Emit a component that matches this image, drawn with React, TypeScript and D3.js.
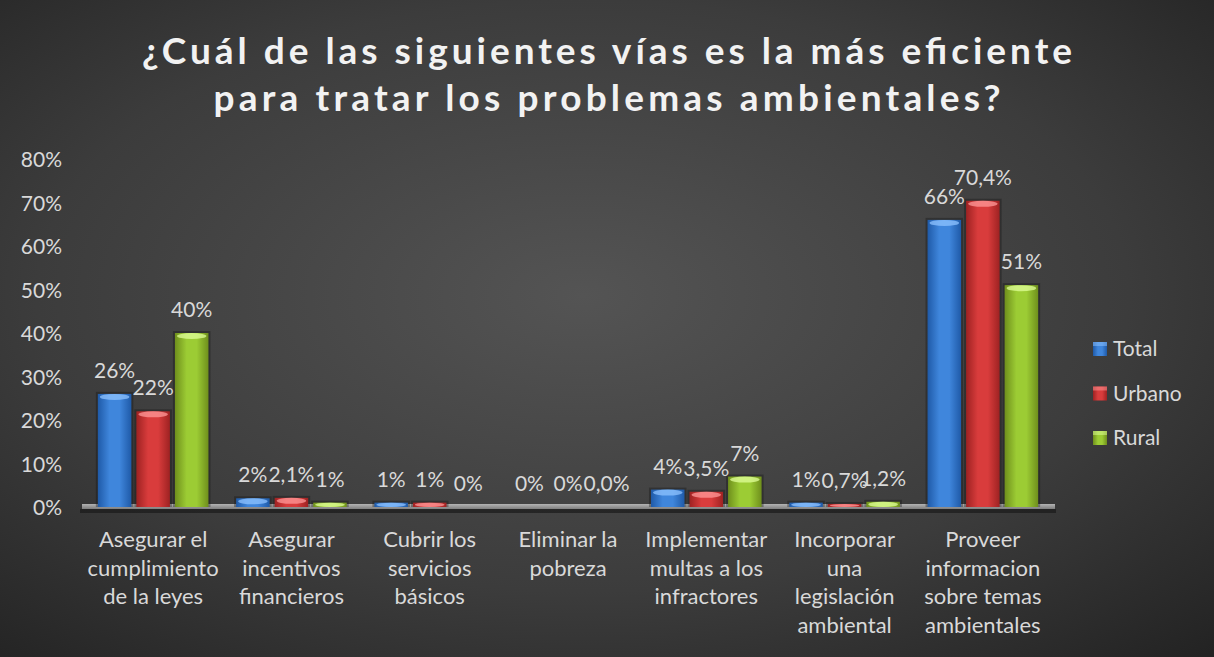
import React from "react";
import * as d3 from "d3";

const categories: string[][] = [
  ["Asegurar el", "cumplimiento", "de la leyes"],
  ["Asegurar", "incentivos", "financieros"],
  ["Cubrir los", "servicios", "básicos"],
  ["Eliminar la", "pobreza"],
  ["Implementar", "multas a los", "infractores"],
  ["Incorporar", "una", "legislación", "ambiental"],
  ["Proveer", "informacion", "sobre temas", "ambientales"],
];
const seriesNames = ["Total", "Urbano", "Rural"];
const totalValues = [26, 2, 1, 0, 4, 1, 66];
const urbanoValues = [22, 2.1, 1, 0, 3.5, 0.7, 70.4];
const ruralValues = [40, 1, 0, 0, 7, 1.2, 51];
const totalLabels = ["26%", "2%", "1%", "0%", "4%", "1%", "66%"];
const urbanoLabels = ["22%", "2,1%", "1%", "0%", "3,5%", "0,7%", "70,4%"];
const ruralLabels = ["40%", "1%", "0%", "0,0%", "7%", "1,2%", "51%"];
const yTicks = [0, 10, 20, 30, 40, 50, 60, 70, 80];
const titleLines = [
  "¿Cuál de las siguientes vías es la más eficiente",
  "para tratar los problemas ambientales?",
];

const W = 1214;
const H = 657;
const FONT = "Lato, 'Open Sans', sans-serif";
const TXT = "#d9d9d9";

const seriesValues = [totalValues, urbanoValues, ruralValues];
const seriesLabels = [totalLabels, urbanoLabels, ruralLabels];
const palette = [
  { dark: "#1f5aa8", mid: "#3f86dc", light: "#8fc3ff" },
  { dark: "#9e2222", mid: "#d93c3c", light: "#ff9a9a" },
  { dark: "#6f8f1c", mid: "#9ccc34", light: "#e0ff9a" },
];

export default function App() {
  const y = d3.scaleLinear().domain([0, 80]).range([507, 159]);
  const x0 = d3
    .scaleBand<number>()
    .domain(d3.range(categories.length))
    .range([84, 1052])
    .paddingInner(0.2)
    .paddingOuter(0.1);
  const x1 = d3
    .scaleBand<number>()
    .domain([0, 1, 2])
    .range([0, x0.bandwidth()])
    .paddingInner(0.13);
  const bw = x1.bandwidth();

  return (
    <svg
      width={W}
      height={H}
      style={{ position: "absolute", left: 0, top: 0 }}
      fontFamily={FONT}
    >
      <defs>
        <radialGradient id="bg" cx="0.48" cy="0.45" r="0.75">
          <stop offset="0" stopColor="#545454" />
          <stop offset="0.6" stopColor="#3c3c3c" />
          <stop offset="1" stopColor="#232323" />
        </radialGradient>
        {palette.map((p, i) => (
          <linearGradient key={i} id={`bar${i}`} x1="0" x2="1" y1="0" y2="0">
            <stop offset="0" stopColor={p.dark} />
            <stop offset="0.35" stopColor={p.mid} />
            <stop offset="0.65" stopColor={p.mid} />
            <stop offset="1" stopColor={p.dark} />
          </linearGradient>
        ))}
        <linearGradient id="floor" x1="0" x2="0" y1="0" y2="1">
          <stop offset="0" stopColor="#c8c8c8" />
          <stop offset="1" stopColor="#8a8a8a" />
        </linearGradient>
      </defs>
      <rect x={0} y={0} width={W} height={H} fill="url(#bg)" />

      {titleLines.map((t, i) => (
        <text
          key={i}
          x={607}
          y={64 + i * 47}
          textAnchor="middle"
          fill="#f2f2f2"
          fontSize={37}
          fontWeight="bold"
          textLength={i === 0 ? 930 : 787}
          lengthAdjust="spacing"
        >
          {t}
        </text>
      ))}

      {yTicks.map((t) => (
        <text
          key={t}
          x={62}
          y={y(t) + 8}
          textAnchor="end"
          fill={TXT}
          fontSize={21}
        >
          {t}%
        </text>
      ))}

      {/* floor */}
      <rect x={80} y={509} width={976} height={4} fill="#1a1a1a" opacity={0.7} />
      <rect x={82} y={504} width={973} height={5} fill="url(#floor)" opacity={0.85} />

      {categories.map((_, ci) =>
        seriesValues.map((vals, si) => {
          const v = vals[ci];
          const bx = (x0(ci) as number) + (x1(si) as number);
          const top = y(v);
          const h = y(0) - top;
          const p = palette[si];
          return (
            <g key={`${ci}-${si}`}>
              {h > 0.5 && (
                <>
                  <rect
                    x={bx - 2}
                    y={top - 2}
                    width={bw + 4}
                    height={h + 2}
                    fill="#111"
                    opacity={0.35}
                  />
                  <rect x={bx} y={top} width={bw} height={h} fill={`url(#bar${si})`} />
                  <ellipse
                    cx={bx + bw / 2}
                    cy={top + Math.min(3, h / 2)}
                    rx={bw / 2 - 2}
                    ry={Math.min(3, h / 2)}
                    fill={p.light}
                    opacity={0.75}
                  />
                </>
              )}
            </g>
          );
        })
      )}

      {categories.map((_, ci) =>
        seriesLabels.map((labs, si) => {
          const v = seriesValues[si][ci];
          const bx = (x0(ci) as number) + (x1(si) as number);
          return (
            <text
              key={`l${ci}-${si}`}
              x={bx + bw / 2}
              y={y(v) - 16}
              textAnchor="middle"
              fill={TXT}
              fontSize={21}
            >
              {labs[ci]}
            </text>
          );
        })
      )}

      {categories.map((lines, ci) => (
        <text
          key={`c${ci}`}
          textAnchor="middle"
          fill={TXT}
          fontSize={22}
        >
          {lines.map((ln, li) => (
            <tspan
              key={li}
              x={(x0(ci) as number) + x0.bandwidth() / 2}
              y={547 + li * 28.7}
            >
              {ln}
            </tspan>
          ))}
        </text>
      ))}

      {seriesNames.map((name, si) => {
        const cy = 349 + si * 44.5;
        return (
          <g key={name}>
            <rect x={1093} y={cy - 7} width={14} height={14} fill={`url(#bar${si})`} />
            <rect x={1093} y={cy - 7} width={14} height={4} fill={palette[si].light} opacity={0.5} />
            <text x={1113} y={cy + 7} fill={TXT} fontSize={21}>
              {name}
            </text>
          </g>
        );
      })}
    </svg>
  );
}
